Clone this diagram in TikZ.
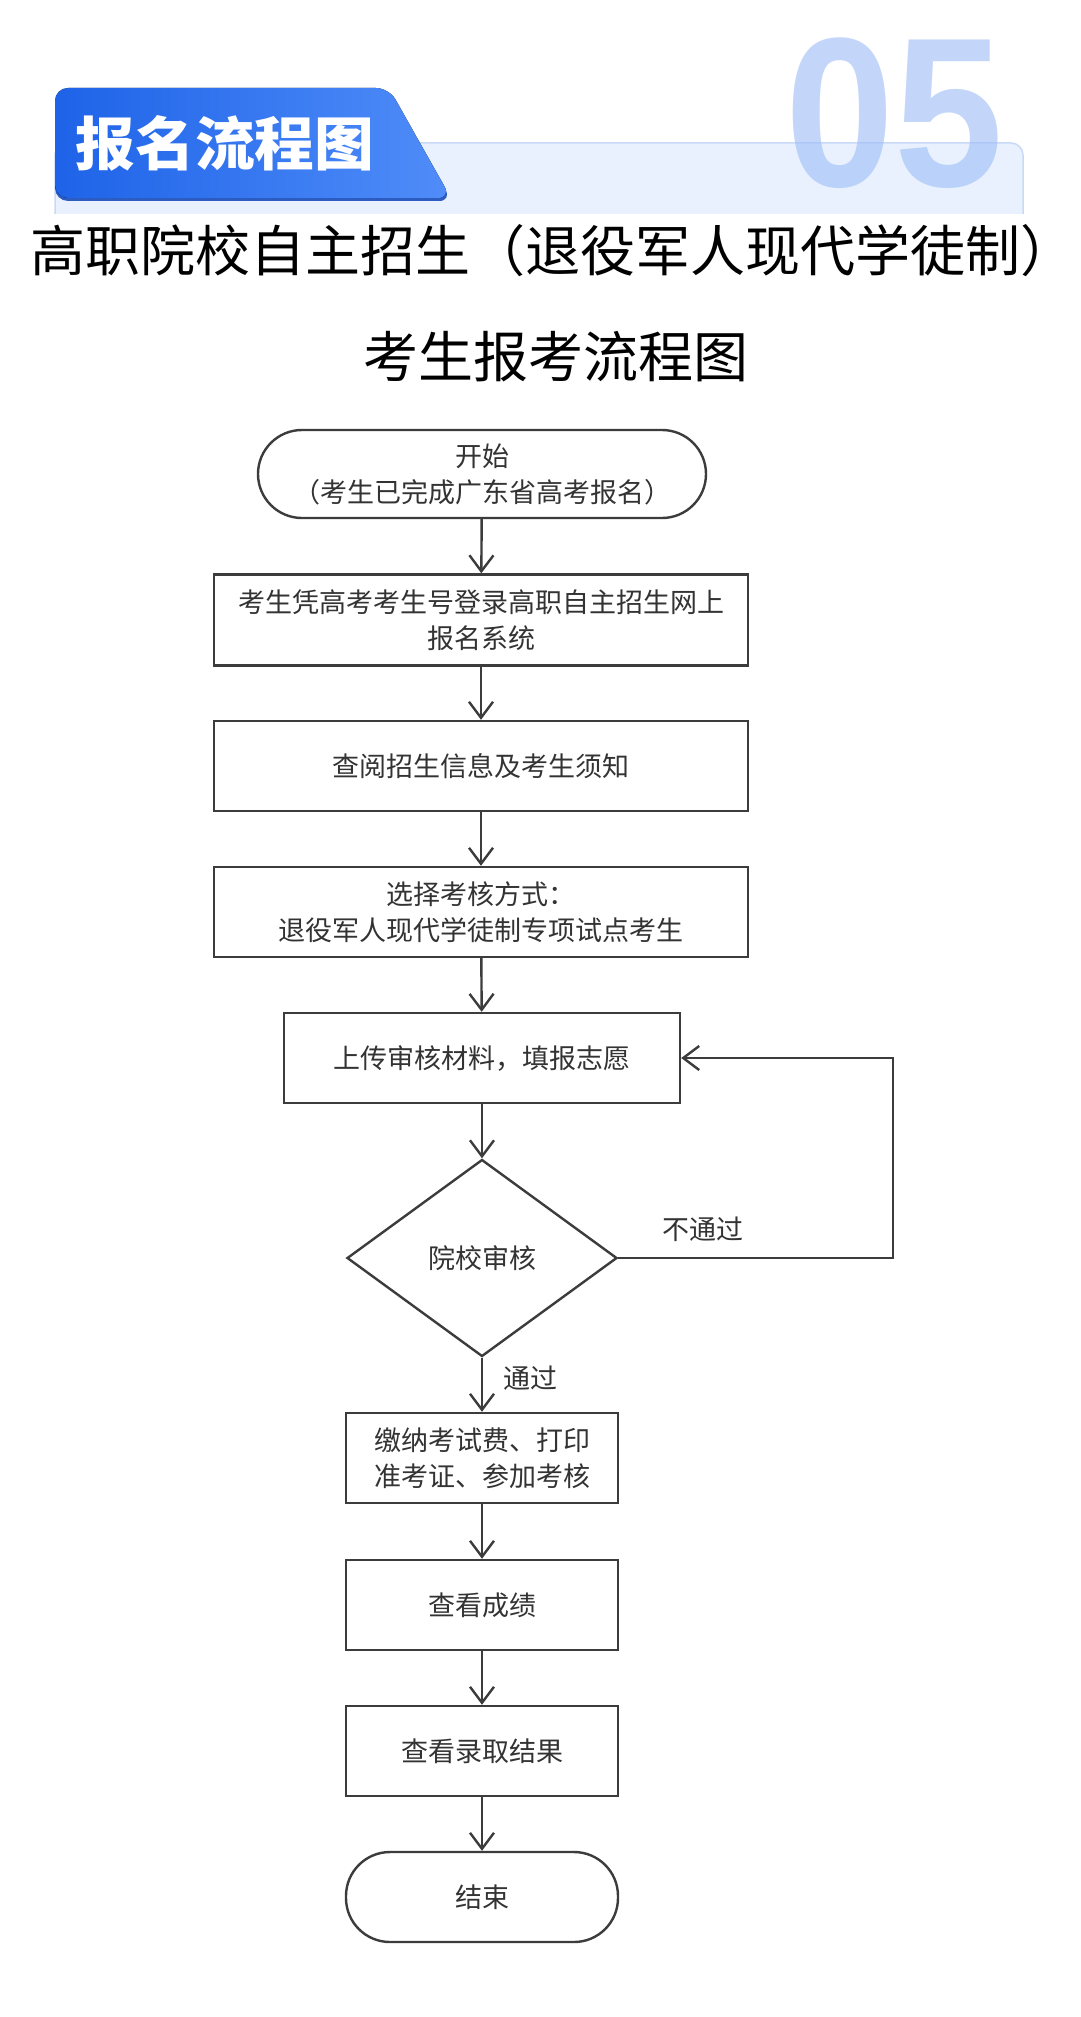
\documentclass[tikz,border=0pt]{standalone}
\usepackage{fontspec}
\setmainfont{Noto Sans CJK SC}
\newfontfamily\digitfont{Liberation Sans}
\usetikzlibrary{arrows.meta,shapes.geometric}
\definecolor{lineC}{HTML}{3C3C3C}
\definecolor{textC}{HTML}{333333}
\definecolor{tabL}{HTML}{1E63E8}
\definecolor{tabR}{HTML}{508DF9}
\definecolor{tabS}{HTML}{2D5CC0}
\definecolor{panelF}{HTML}{E8F1FD}
\definecolor{panelD}{HTML}{C8DAF7}
\definecolor{numC}{HTML}{9CBCF8}
\tikzset{
  flowbox/.style={draw=lineC, line width=2.4pt, rectangle, inner sep=0pt,
    text=textC, font=\fontsize{27}{36}\selectfont, align=center, minimum height=90pt},
  terminal/.style={flowbox, rounded corners=44pt},
  decision/.style={draw=lineC, line width=2.4pt, diamond, inner sep=0pt,
    text=textC, font=\fontsize{27}{36}\selectfont, minimum width=270pt, minimum height=197pt},
  flowarrow/.style={draw=lineC, line width=2.4pt, -{Straight Barb[length=16pt,width=24pt]}},
  flowlabel/.style={text=textC, font=\fontsize{27}{36}\selectfont, inner sep=0pt},
  titletext/.style={text=black, font=\fontsize{55}{60}\selectfont, inner sep=0pt}
}
\begin{document}
\begin{tikzpicture}[x=1pt,y=-1pt]
\useasboundingbox (0,0) rectangle (1080,2017);
\fill[white] (0,0) rectangle (1080,2017);
% header panel
\path[fill=panelF, draw=panelD, line width=1.5pt, rounded corners=12pt]
  (55,214) -- (55,143) -- (1023,143) -- (1023,214);
% big number
\node[anchor=base west, inner sep=0pt, text=numC, text opacity=0.6, xscale=0.92,
  font=\digitfont\bfseries\fontsize{213}{213}\selectfont] (num) at (785,187) {05};
% tab
\fill[tabS, rounded corners=13pt] (55,201) -- (55,91) -- (389,91) -- (452,201) -- cycle;
\fill[left color=tabL, right color=tabR, rounded corners=13pt]
  (55,198) -- (55,88) -- (389,88) -- (451,198) -- cycle;
\node[text=white, inner sep=0pt, font=\bfseries\fontsize{58}{58}\selectfont, xscale=1.03] (tabtext) at (225,143) {报名流程图};
% titles
\node[titletext] (t1) at (553,251) {高职院校自主招生（退役军人现代学徒制）};
\node[titletext] (t2) at (556,357) {考生报考流程图};
% flow
\node[terminal, minimum width=448pt, minimum height=88pt] (start) at (482,474)
  {开始\\（考生已完成广东省高考报名）};
\node[flowbox, minimum width=534pt, minimum height=91pt] (b1) at (481,620)
  {考生凭高考考生号登录高职自主招生网上\\报名系统};
\node[flowbox, minimum width=534pt] (b2) at (481,766) {查阅招生信息及考生须知};
\node[flowbox, minimum width=534pt] (b3) at (481,912)
  {选择考核方式：\\退役军人现代学徒制专项试点考生};
\node[flowbox, minimum width=396pt] (b4) at (482,1058) {上传审核材料，填报志愿};
\node[decision] (dec) at (482,1258) {院校审核};
\node[flowbox, minimum width=272pt] (b5) at (482,1458) {缴纳考试费、打印\\准考证、参加考核};
\node[flowbox, minimum width=272pt] (b6) at (482,1605) {查看成绩};
\node[flowbox, minimum width=272pt] (b7) at (482,1751) {查看录取结果};
\node[terminal, minimum width=272pt] (end) at (482,1897) {结束};
\coordinate (loopc) at (893,1258);
\draw[flowarrow] (start) -- (b1);
\draw[flowarrow] (b1) -- (b2);
\draw[flowarrow] (b2) -- (b3);
\draw[flowarrow] (b3) -- (b4);
\draw[flowarrow] (b4) -- (dec);
\draw[flowarrow] (dec) -- (b5);
\draw[flowarrow] (b5) -- (b6);
\draw[flowarrow] (b6) -- (b7);
\draw[flowarrow] (b7) -- (end);
\draw[flowarrow] (dec.east) -- (loopc) |- (b4.east);
\node[flowlabel] (lno) at (703,1229) {不通过};
\node[flowlabel] (lyes) at (530,1378) {通过};
\end{tikzpicture}
\end{document}
